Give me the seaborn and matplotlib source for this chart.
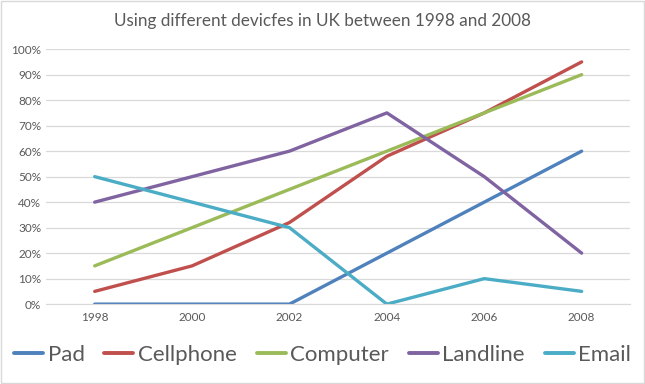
import matplotlib
matplotlib.use('Agg')
import matplotlib.pyplot as plt
import seaborn as sns
import pandas as pd
from matplotlib.patches import Rectangle

years = ['1998', '2000', '2002', '2004', '2006', '2008']
pad = [0, 0, 0, 20, 40, 60]
cellphone = [5, 15, 32, 58, 75, 95]
computer = [15, 30, 45, 60, 75, 90]
landline = [40, 50, 60, 75, 50, 20]
email = [50, 40, 30, 0, 10, 5]

series = {'Pad': pad, 'Cellphone': cellphone, 'Computer': computer,
          'Landline': landline, 'Email': email}
colors = ['#4F81BD', '#C0504D', '#9BBB59', '#8064A2', '#4BACC6']

rows = []
for name, vals in series.items():
    for i, v in enumerate(vals):
        rows.append({'x': i, 'value': v, 'device': name})
df = pd.DataFrame(rows)

sns.set_style('white')
plt.rcParams['font.family'] = ['Lato', 'DejaVu Sans']

fig = plt.figure(figsize=(6.45, 3.84), dpi=100)
ax = fig.add_axes([0.0713, 0.208, 0.906, 0.664])
sns.lineplot(data=df, x='x', y='value', hue='device', palette=colors,
             linewidth=2.4, ax=ax, legend=False)

ax.set_xlim(-0.5, 5.5)
ax.set_ylim(0, 100)
ax.set_xticks(range(len(years)))
ax.set_xticklabels(years)
ax.set_yticks(range(0, 101, 10))
ax.set_yticklabels([f'{t}%' for t in range(0, 101, 10)])
ax.tick_params(axis='both', length=0, labelsize=8.5, colors='#595959')
ax.tick_params(axis='x', pad=6)
ax.grid(axis='y', color='#D9D9D9', linewidth=0.9)
ax.set_axisbelow(True)
for s in ['top', 'right', 'left']:
    ax.spines[s].set_visible(False)
ax.spines['bottom'].set_color('#D9D9D9')
ax.set_xlabel('')
ax.set_ylabel('')

fig.text(0.5, 0.945, 'Using different devicfes in UK between 1998 and 2008',
         ha='center', va='center', fontsize=12.3, color='#595959')

handles = [plt.Line2D([], [], color=c, linewidth=2.8) for c in colors]
fig.legend(handles, list(series.keys()), loc='center', bbox_to_anchor=(0.5, 0.076),
           ncol=5, frameon=False, fontsize=16, handlelength=1.3,
           handletextpad=0.2, columnspacing=0.9, labelcolor='#595959')

fig.patches.append(Rectangle((0.002, 0.003), 0.996, 0.994, transform=fig.transFigure,
                             fill=False, edgecolor='#D9D9D9', linewidth=1))

fig.savefig('out.png', dpi=100)
